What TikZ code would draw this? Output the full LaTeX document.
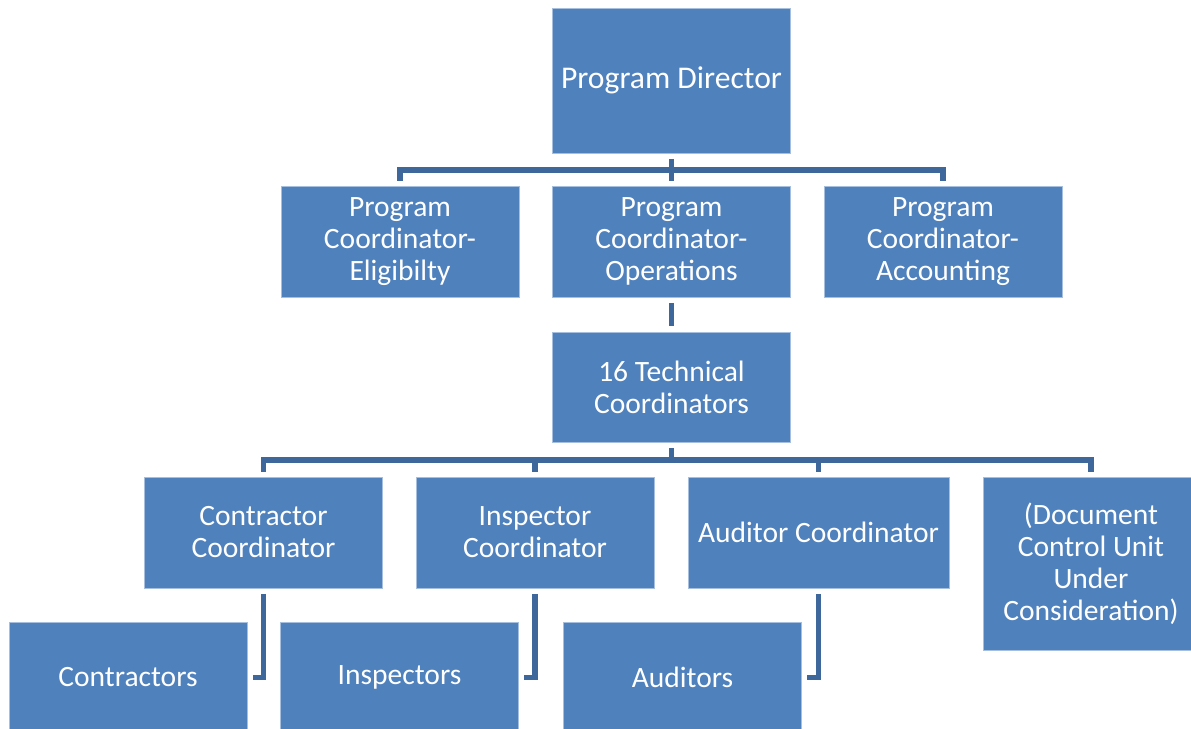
\documentclass[tikz,border=0pt]{standalone}
\usepackage{fontspec}
\setmainfont{Carlito}
\usepackage{tikz}
\usetikzlibrary{calc}

\definecolor{boxblue}{RGB}{79,129,189}
\definecolor{boxedge}{RGB}{167,191,222}
\definecolor{linkblue}{RGB}{62,104,155}

\begin{document}
\begin{tikzpicture}[x=0.02cm, y=-0.02cm,
    box/.style={fill=boxblue, draw=boxedge, line width=0.5pt, text=white,
        align=center, inner sep=0pt, outer sep=0pt,
        minimum width=4.76cm, minimum height=2.22cm,
        font=\fontsize{16.8}{18.2}\selectfont},
    link/.style={draw=linkblue, line width=0.11cm, line join=miter}]
    \useasboundingbox (0,0) rectangle (1191,729);
    \clip (0,0) rectangle (1191,729);

    % top of the chart
    \node[box, minimum height=2.9cm, font=\fontsize{18}{20}\selectfont] (dir)
        at (671.5,80.5) {Program Director};
    \node[box] (pce) at (400,241.5) {Program\\Coordinator-\\Eligibilty};
    \node[box] (pco) at (671.5,241.5) {Program\\Coordinator-\\Operations};
    \node[box] (pca) at (943,241.5) {Program\\Coordinator-\\Accounting};
    \node[box, minimum height=2.2cm] (tech) at (671.5,387) {16 Technical\\Coordinators};

    % coordinators
    \node[box] (cc) at (263.5,532.5) {Contractor\\Coordinator};
    \node[box] (ic) at (535,532.5) {Inspector\\Coordinator};
    \node[box, minimum width=5.22cm] (ac) at (818.5,532.5) {Auditor Coordinator};
    \node[box, minimum width=4.32cm, minimum height=3.46cm] (doc) at (1091,563.5)
        {(Document\\Control Unit\\Under\\Consideration)};

    % staff
    \node[box] (ctr) at (128,677.5) {Contractors};
    \node[box] (ins) at (399.5,677.5) {Inspectors};
    \node[box] (aud) at (682.5,677.5) {Auditors};

    % connectors
    \coordinate (busA) at (671.5,170);
    \coordinate (busB) at (671.5,460);
    \draw[link] ([yshift=-0.12cm]dir.south) -- (busA);
    \draw[link] ([yshift=0.11cm]pce.north) |- (busA) -| ([yshift=0.11cm]pca.north);
    \draw[link] (busA) -- ([yshift=0.11cm]pco.north);
    \draw[link] ([yshift=-0.12cm]pco.south) -- ([yshift=0.12cm]tech.north);

    \draw[link] ([yshift=-0.12cm]tech.south) -- (busB);
    \draw[link] ([yshift=0.11cm]cc.north) |- (busB) -| ([yshift=0.11cm]doc.north);
    \draw[link] (ic.north |- busB) -- ([yshift=0.11cm]ic.north);
    \draw[link] (ac.north |- busB) -- ([yshift=0.11cm]ac.north);

    \draw[link] ([yshift=-0.12cm]cc.south) |- ([xshift=0.12cm]ctr.east);
    \draw[link] ([yshift=-0.12cm]ic.south) |- ([xshift=0.12cm]ins.east);
    \draw[link] ([yshift=-0.12cm]ac.south) |- ([xshift=0.12cm]aud.east);
\end{tikzpicture}
\end{document}
